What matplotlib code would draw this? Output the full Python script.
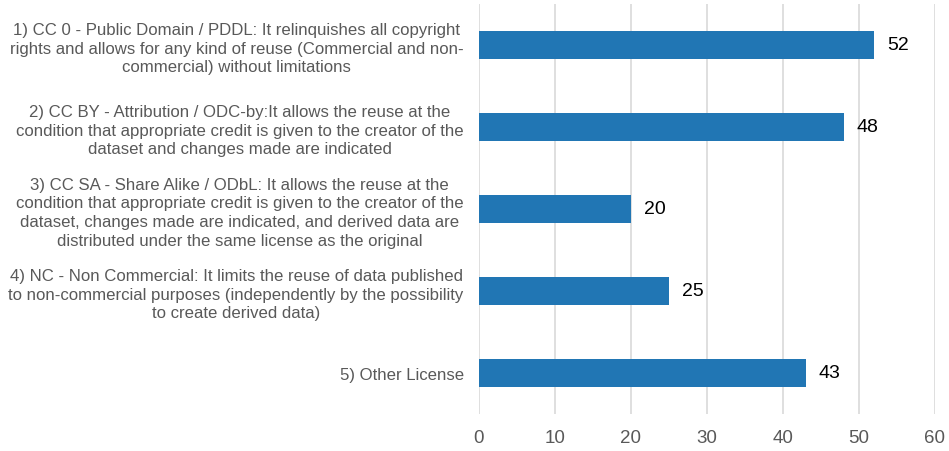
import matplotlib
matplotlib.use('Agg')
import matplotlib.pyplot as plt

plt.rcParams['font.family'] = ['Liberation Sans', 'DejaVu Sans']

labels = [
    '1) CC 0 - Public Domain / PDDL: It relinquishes all copyright\n'
    'rights and allows for any kind of reuse (Commercial and non-\n'
    'commercial) without limitations',
    '2) CC BY - Attribution / ODC-by:It allows the reuse at the\n'
    'condition that appropriate credit is given to the creator of the\n'
    'dataset and changes made are indicated',
    '3) CC SA - Share Alike / ODbL: It allows the reuse at the\n'
    'condition that appropriate credit is given to the creator of the\n'
    'dataset, changes made are indicated, and derived data are\n'
    'distributed under the same license as the original',
    '4) NC - Non Commercial: It limits the reuse of data published\n'
    'to non-commercial purposes (independently by the possibility\n'
    'to create derived data)',
    '5) Other License',
]
values = [52, 48, 20, 25, 43]
xticks = [0, 10, 20, 30, 40, 50, 60]

bar_color = '#2176B4'
text_gray = '#595959'

fig = plt.figure(figsize=(9.49, 4.52), dpi=100)
ax = fig.add_axes([0.5047, 0.082, 0.4805, 0.907])

ypos = list(range(len(values)))
bars = ax.barh(ypos, values, height=0.34, color=bar_color, zorder=3)
ax.set_ylim(len(values) - 0.5, -0.5)
ax.set_xlim(0, 60)
ax.set_xticks(xticks)
ax.set_yticks(ypos)
ax.set_yticklabels(labels, fontsize=12.1, color=text_gray, multialignment='center',
                   linespacing=1.3)
ax.tick_params(axis='x', labelsize=13.5, colors=text_gray, length=0, pad=11)
ax.tick_params(axis='y', length=0, pad=11)

for b, v in zip(bars, values):
    ax.text(b.get_width() + 1.7, b.get_y() + b.get_height() / 2, str(v),
            va='center', ha='left', fontsize=14, color='black')

ax.grid(axis='x', color='#d9d9d9', linewidth=1.2, zorder=0)
for s in ax.spines.values():
    s.set_visible(False)

fig.savefig('out.png', dpi=100)
